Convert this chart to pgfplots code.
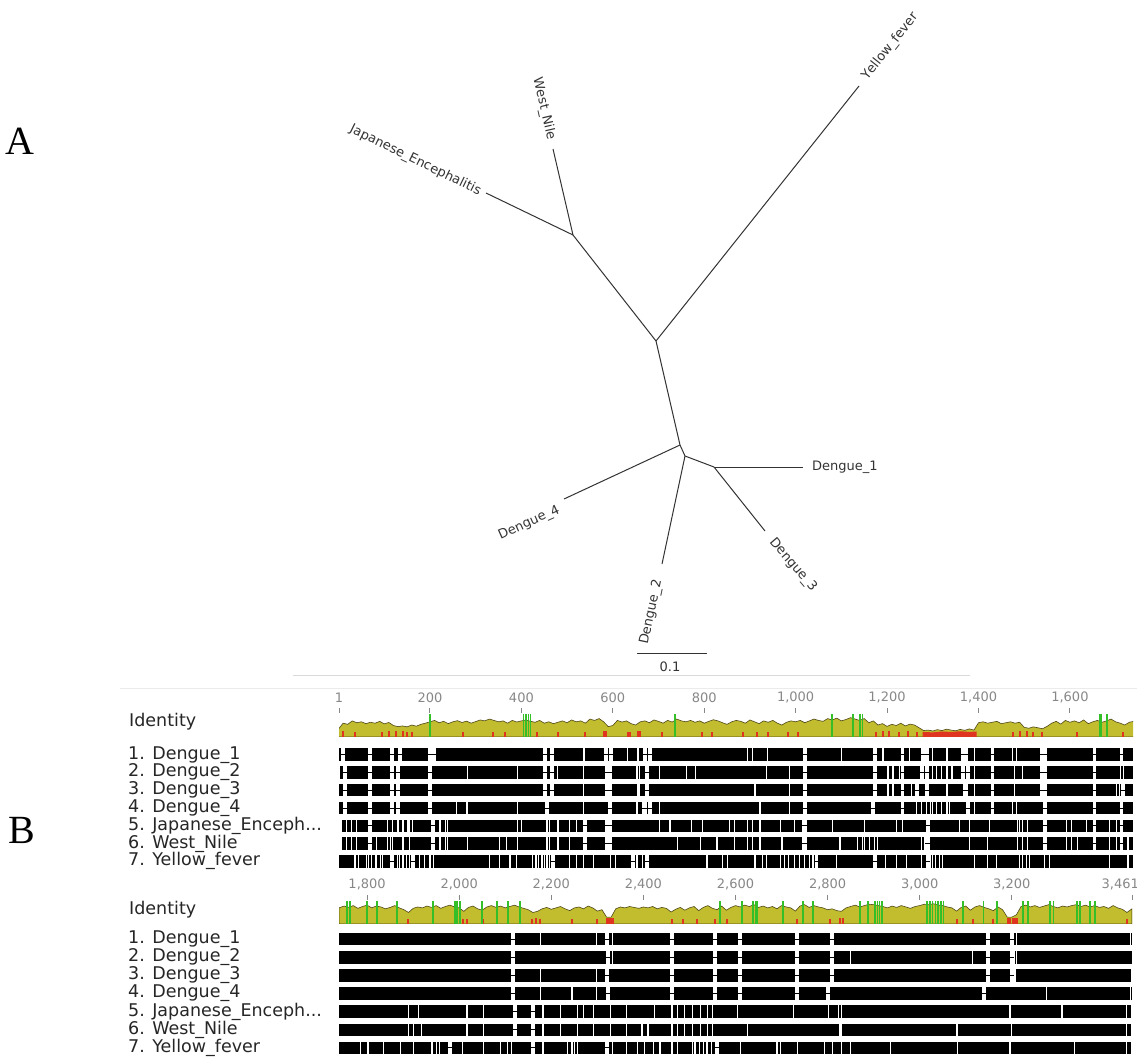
\documentclass[border=0pt]{standalone}
\usepackage{pgfplots}
\pgfplotsset{compat=1.18}
\usepackage{fontspec}
\setmainfont{DejaVu Sans}
\newfontfamily\labfont{Liberation Serif}
\newfontfamily\treefam[Kerning=Off]{DejaVu Sans}
\definecolor{olivebar}{RGB}{194,189,46}
\definecolor{oliveline}{RGB}{80,72,25}
\definecolor{idred}{RGB}{222,52,32}
\definecolor{idgreen}{RGB}{52,190,40}
\definecolor{rulergray}{RGB}{135,135,135}
\newcommand\namefont{\fontsize{17.5}{18}\selectfont}
\newcommand\treefont{\treefam\fontsize{13}{13}\selectfont}
\pgfdeclareplotmark{gapmark}{%
  \pgfpathrectangle{\pgfqpoint{-1.8pt}{-6.9pt}}{\pgfqpoint{3.6pt}{13.8pt}}%
  \pgfsetfillcolor{white}\pgfusepathqfill
  \pgfpathmoveto{\pgfqpoint{-2.4pt}{0pt}}\pgfpathlineto{\pgfqpoint{2.4pt}{0pt}}%
  \pgfsetstrokecolor{black}\pgfsetlinewidth{1pt}\pgfusepathqstroke}
\pgfplotsset{
 idaxis/.style={anchor=south west, scale only axis, height=24pt, ymin=0, ymax=104.3,
   axis x line*=top, axis y line=none, x axis line style={draw=none,-},
   tick align=outside, major tick length=5pt, tick style={rulergray, line width=1pt},
   xticklabel style={font=\fontsize{13}{13}\selectfont, text=rulergray, inner sep=1pt, yshift=4pt},
   clip=true},
 alaxis/.style={anchor=south west, scale only axis, hide axis, clip=false, y dir=reverse, ymin=0.5, ymax=7.5},
 barrow/.style={black, line width=12.4pt, line cap=butt},
 gaps/.style={only marks, mark=gapmark},
 mism/.style={only marks, mark=|, mark size=6.4pt, mark options={draw=white, line width=1.1pt}},
 skyline/.style={fill=olivebar, draw=oliveline, line width=0.6pt},
 redbar/.style={ycomb, draw=idred, line width=2pt},
 greenbar/.style={ycomb, draw=idgreen, line width=1.5pt},
}
\begin{document}
\begin{tikzpicture}
\useasboundingbox (0,0) rectangle (1137pt,1057pt);
% ---------------- canvas axis (pixel units) : tree + labels
\begin{axis}[at={(0pt,0pt)}, anchor=south west, scale only axis, width=1137pt, height=1057pt,
  xmin=0, xmax=1137, ymin=0, ymax=1057, y dir=reverse, hide axis, clip=false]
 \addplot[black!80, line width=1pt] coordinates {(656,341) (859,86)};
 \addplot[black!80, line width=1pt] coordinates {(656,341) (573,235)};
 \addplot[black!80, line width=1pt] coordinates {(573,235) (553,149)};
 \addplot[black!80, line width=1pt] coordinates {(573,235) (486,193)};
 \addplot[black!80, line width=1pt] coordinates {(656,341) (680,445)};
 \addplot[black!80, line width=1pt] coordinates {(680,445) (564,499)};
 \addplot[black!80, line width=1pt] coordinates {(680,445) (685,456)};
 \addplot[black!80, line width=1pt] coordinates {(685,456) (662,564)};
 \addplot[black!80, line width=1pt] coordinates {(685,456) (714,467)};
 \addplot[black!80, line width=1pt] coordinates {(714,467) (803,467)};
 \addplot[black!80, line width=1pt] coordinates {(714,467) (765,531)};
 \addplot[black!80, line width=1pt] coordinates {(637,653) (707,653)};
 \node[rotate=51.5, anchor=west, inner sep=4pt, font=\treefont, text=black!80] at (axis cs:862,82) {Yellow\_fever};
 \node[rotate=-77, anchor=east, inner sep=4pt, font=\treefont, text=black!80] at (axis cs:552,144) {West\_Nile};
 \node[rotate=-26, anchor=east, inner sep=4pt, font=\treefont, text=black!80] at (axis cs:484,194) {Japanese\_Encephalitis};
 \node[anchor=west, inner sep=4pt, font=\treefont, text=black!80] at (axis cs:808,467) {Dengue\_1};
 \node[rotate=-49.6, anchor=west, inner sep=4pt, font=\treefont, text=black!80] at (axis cs:769,537) {Dengue\_3};
 \node[rotate=78, anchor=east, inner sep=4pt, font=\treefont, text=black!80] at (axis cs:659,576) {Dengue\_2};
 \node[rotate=24.2, anchor=east, inner sep=4pt, font=\treefont, text=black!80] at (axis cs:563,508) {Dengue\_4};
 \node[font=\treefont, text=black!80] at (axis cs:670,667) {0.1};
 \draw[black!15, line width=1pt] (axis cs:293,675) -- (axis cs:970,675);
 \draw[black!8, line width=1pt] (axis cs:120,688) -- (axis cs:1137,688);
 \node[font=\labfont\fontsize{40}{40}\selectfont] at (axis cs:20,141) {A};
 \node[font=\labfont\fontsize{40}{40}\selectfont] at (axis cs:22,830) {B};
 \node[anchor=east, inner sep=0pt, font=\fontsize{13}{13}\selectfont, text=rulergray] at (axis cs:1139,884) {3,461};
 % names block 1
 \node[anchor=west, inner sep=0pt, font=\namefont, text=black!85] at (axis cs:129,722) {Identity};
 \node[anchor=west, inner sep=0pt, font=\namefont, text=black!85] at (axis cs:128,754.7) {1. Dengue\_1};
 \node[anchor=west, inner sep=0pt, font=\namefont, text=black!85] at (axis cs:128,772.5) {2. Dengue\_2};
 \node[anchor=west, inner sep=0pt, font=\namefont, text=black!85] at (axis cs:128,790.2) {3. Dengue\_3};
 \node[anchor=west, inner sep=0pt, font=\namefont, text=black!85] at (axis cs:128,808.0) {4. Dengue\_4};
 \node[anchor=west, inner sep=0pt, font=\namefont, text=black!85] at (axis cs:128,825.8) {5. Japanese\_Enceph...};
 \node[anchor=west, inner sep=0pt, font=\namefont, text=black!85] at (axis cs:128,843.5) {6. West\_Nile};
 \node[anchor=west, inner sep=0pt, font=\namefont, text=black!85] at (axis cs:128,861.3) {7. Yellow\_fever};
 % names block 2
 \node[anchor=west, inner sep=0pt, font=\namefont, text=black!85] at (axis cs:129,910) {Identity};
 \node[anchor=west, inner sep=0pt, font=\namefont, text=black!85] at (axis cs:128,939.2) {1. Dengue\_1};
 \node[anchor=west, inner sep=0pt, font=\namefont, text=black!85] at (axis cs:128,957.3) {2. Dengue\_2};
 \node[anchor=west, inner sep=0pt, font=\namefont, text=black!85] at (axis cs:128,975.5) {3. Dengue\_3};
 \node[anchor=west, inner sep=0pt, font=\namefont, text=black!85] at (axis cs:128,993.6) {4. Dengue\_4};
 \node[anchor=west, inner sep=0pt, font=\namefont, text=black!85] at (axis cs:128,1011.7) {5. Japanese\_Enceph...};
 \node[anchor=west, inner sep=0pt, font=\namefont, text=black!85] at (axis cs:128,1029.9) {6. West\_Nile};
 \node[anchor=west, inner sep=0pt, font=\namefont, text=black!85] at (axis cs:128,1048) {7. Yellow\_fever};
\end{axis}
% ---------------- identity block 1
\begin{axis}[idaxis, at={(339pt,320pt)}, width=794pt, xmin=1, xmax=1738,
  xtick={1,200,400,600,800,1000,1200,1400,1600},
  xticklabels={1,200,400,600,800,{1,000},{1,200},{1,400},{1,600}}]
 \addplot[skyline] coordinates {(0,35) (10,60) (20,55) (30,70) (40,62) (50,66) (60,58) (70,64) (80,60) (90,68)
 (100,57) (110,63) (120,50) (130,45) (140,48) (150,44) (160,52) (170,47) (180,55) (190,60)
 (200,66) (210,72) (220,62) (230,68) (240,58) (250,66) (260,71) (270,63) (280,69) (290,60)
 (300,67) (310,74) (320,70) (330,78) (340,72) (350,66) (360,70) (370,60) (380,72) (390,65)
 (400,70) (410,74) (420,68) (430,64) (440,72) (450,60) (460,66) (470,58) (480,64) (490,70)
 (500,62) (510,74) (520,66) (530,70) (540,60) (550,78) (560,72) (570,80) (580,66) (590,45)
 (600,50) (610,72) (620,65) (630,70) (640,58) (650,52) (660,66) (670,70) (680,62) (690,74)
 (700,68) (710,60) (720,72) (730,65) (740,78) (750,70) (760,66) (770,72) (780,64) (790,70)
 (800,60) (810,68) (820,75) (830,70) (840,62) (850,55) (860,66) (870,72) (880,68) (890,60)
 (900,74) (910,66) (920,58) (930,70) (940,64) (950,72) (960,60) (970,52) (980,64) (990,70)
 (1000,66) (1010,72) (1020,62) (1030,70) (1040,78) (1050,72) (1060,68) (1070,80) (1080,74) (1090,82)
 (1100,70) (1110,76) (1120,84) (1130,78) (1140,72) (1150,80) (1160,62) (1170,70) (1180,52) (1190,58)
 (1200,46) (1210,55) (1220,50) (1230,60) (1240,48) (1250,56) (1260,52) (1270,40) (1280,28) (1290,30)
 (1300,26) (1310,32) (1320,28) (1330,34) (1340,30) (1350,27) (1360,33) (1370,29) (1380,35) (1390,30)
 (1400,62) (1410,66) (1420,60) (1430,64) (1440,68) (1450,58) (1460,62) (1470,66) (1480,60) (1490,64)
 (1500,42) (1510,38) (1520,44) (1530,40) (1540,36) (1550,46) (1560,60) (1570,68) (1580,56) (1590,72)
 (1600,64) (1610,70) (1620,62) (1630,74) (1640,58) (1650,66) (1660,72) (1670,64) (1680,70) (1690,78)
 (1700,66) (1710,60) (1720,52) (1730,64) (1740,68)} \closedcycle;
 \addplot[fill=idred, draw=none] coordinates {(1278,0) (1278,22) (1300,20) (1320,24) (1340,22) (1360,25) (1380,22) (1396,24) (1396,0)} \closedcycle;
 \addplot[redbar] coordinates {(10,25) (36,20) (95,22) (110,25) (125,28) (140,25) (150,22) (160,20) (272,20) (338,22) (364,20) (434,22) (480,20) (539,22) (580,28) (585,28) (633,20) (637,22) (655,25) (659,25) (707,20) (795,20) (817,22) (885,20) (915,22) (939,20) (983,20) (1005,22) (1175,22) (1190,25) (1205,25) (1225,22) (1245,25) (1265,22) (1475,22) (1490,25) (1505,25) (1519,22) (1538,22) (1615,20) (1716,22)};
 \addplot[greenbar] coordinates {(200,100) (405,100) (410,100) (415,100) (420,100) (736,100) (1079,100) (1125,100) (1141,100) (1146,100) (1665,100) (1668,100) (1681,100)};
\end{axis}
% ---------------- alignment block 1
\begin{axis}[alaxis, at={(339pt,186.8pt)}, width=794pt, height=124.4pt, xmin=1, xmax=1738]
 \addplot[barrow] coordinates {(1,1) (1738,1)};
 \addplot[barrow] coordinates {(1,2) (1738,2)};
 \addplot[barrow] coordinates {(1,3) (1738,3)};
 \addplot[barrow] coordinates {(1,4) (1738,4)};
 \addplot[barrow] coordinates {(8,5) (1738,5)};
 \addplot[barrow] coordinates {(8,6) (1738,6)};
 \addplot[barrow] coordinates {(1,7) (1738,7)};
 \addplot[mism] coordinates {(537,1) (633,1) (655,1) (895,1) (906,1) (939,1) (1101,1) (1191,1) (1250,1) (1300,1) (1331,1) (1392,1) (1475,1) (1484,1)
 (3,2) (283,2) (392,2) (478,2) (535,2) (653,2) (659,2) (703,2) (762,2) (780,2) (937,2) (987,2) (1202,2) (1213,2) (1228,2) (1300,2) (1309,2) (1320,2) (1331,2) (1342,2) (1392,2) (1479,2) (1497,2) (1710,2) (1718,2)
 (535,3) (655,3) (659,3) (911,3) (987,3) (1202,3) (1213,3) (1254,3) (1331,3) (1392,3) (1479,3) (1702,3) (1709,3)
 (259,4) (281,4) (392,4) (535,4) (653,4) (664,4) (703,4) (922,4) (987,4) (1265,4) (1276,4) (1287,4) (1294,4) (1300,4) (1309,4) (1320,4) (1331,4) (1337,4) (1392,4) (1475,4) (1484,4)
 (18,5) (29,5) (40,5) (108,5) (119,5) (130,5) (141,5) (152,5) (156,5) (161,5) (222,5) (233,5) (239,5) (392,5) (401,5) (456,5) (462,5) (480,5) (506,5) (521,5) (703,5) (725,5) (773,5) (797,5) (856,5) (867,5) (895,5) (906,5) (922,5) (966,5) (998,5) (1014,5) (1081,5) (1151,5) (1221,5) (1234,5) (1359,5) (1381,5) (1425,5) (1486,5) (1490,5) (1497,5) (1508,5) (1593,5) (1604,5) (1637,5) (1687,5) (1702,5)
 (18,6) (29,6) (40,6) (84,6) (108,6) (113,6) (119,6) (141,6) (156,6) (222,6) (233,6) (239,6) (283,6) (353,6) (368,6) (392,6) (456,6) (462,6) (480,6) (506,6) (742,6) (791,6) (828,6) (867,6) (895,6) (906,6) (922,6) (970,6) (1014,6) (1097,6) (1136,6) (1147,6) (1151,6) (1162,6) (1173,6) (1180,6) (1276,6) (1283,6) (1381,6) (1420,6) (1486,6) (1497,6) (1508,6) (1593,6) (1604,6) (1617,6) (1687,6) (1702,6) (1727,6)
 (36,7) (43,7) (62,7) (66,7) (73,7) (80,7) (84,7) (91,7) (97,7) (128,7) (134,7) (141,7) (148,7) (156,7) (178,7) (189,7) (200,7) (207,7) (331,7) (353,7) (375,7) (390,7) (425,7) (432,7) (438,7) (445,7) (451,7) (456,7) (462,7) (506,7) (521,7) (535,7) (557,7) (594,7) (605,7) (653,7) (664,7) (806,7) (839,7) (850,7) (911,7) (928,7) (937,7) (966,7) (975,7) (985,7) (998,7) (1009,7) (1020,7) (1031,7) (1038,7) (1090,7) (1197,7) (1221,7) (1243,7) (1276,7) (1294,7) (1300,7) (1306,7) (1315,7) (1322,7) (1392,7) (1420,7) (1440,7) (1490,7) (1497,7) (1504,7) (1512,7) (1545,7) (1556,7) (1687,7) (1727,7)};
 \addplot[gaps] coordinates {(10,1) (69,1) (117,1) (134,1) (200,1) (209,1) (451,1) (467,1) (585,1) (596,1) (670,1) (681,1) (1020,1) (1173,1) (1234,1) (1278,1) (1287,1) (1366,1) (1374,1) (1431,1) (1538,1) (1545,1) (1654,1) (1713,1)
 (14,2) (69,2) (117,2) (130,2) (200,2) (451,2) (467,2) (587,2) (594,2) (675,2) (1020,2) (1173,2) (1234,2) (1276,2) (1287,2) (1366,2) (1377,2) (1431,2) (1538,2) (1545,2) (1654,2)
 (14,3) (69,3) (117,3) (130,3) (200,3) (451,3) (467,3) (587,3) (594,3) (675,3) (1020,3) (1173,3) (1234,3) (1265,3) (1287,3) (1370,3) (1374,3) (1431,3) (1538,3) (1545,3) (1654,3) (1716,3)
 (14,4) (69,4) (117,4) (130,4) (200,4) (456,4) (594,4) (670,4) (681,4) (1020,4) (1169,4) (1234,4) (1377,4) (1431,4) (1545,4) (1654,4) (1713,4)
 (69,5) (207,5) (539,5) (587,5) (594,5) (1020,5) (1289,5) (1545,5) (1654,5) (1713,5)
 (69,6) (207,6) (539,6) (587,6) (594,6) (1020,6) (1289,6) (1545,6) (1654,6) (1713,6)
 (117,7) (163,7) (469,7) (644,7) (675,7) (1046,7) (1173,7) (1289,7)};
\end{axis}
% ---------------- identity block 2
\begin{axis}[idaxis, at={(339pt,133pt)}, width=793pt, xmin=1739, xmax=3461,
  xtick={1800,2000,2200,2400,2600,2800,3000,3200},
  xticklabels={{1,800},{2,000},{2,200},{2,400},{2,600},{2,800},{3,000},{3,200}},
  extra x ticks={3461}, extra x tick labels={{}}]
 \addplot[skyline] coordinates {(1739,70) (1750,78) (1760,72) (1770,80) (1780,68) (1790,76) (1800,82) (1810,70) (1820,78) (1830,74)
 (1840,66) (1850,72) (1860,80) (1870,70) (1880,62) (1890,50) (1900,68) (1910,74) (1920,70) (1930,78)
 (1940,72) (1950,80) (1960,68) (1970,76) (1980,82) (1990,74) (2000,70) (2010,55) (2020,72) (2030,78)
 (2040,66) (2050,60) (2060,74) (2070,80) (2080,72) (2090,78) (2100,70) (2110,76) (2120,82) (2130,74)
 (2140,68) (2150,62) (2160,50) (2170,55) (2180,66) (2190,72) (2200,64) (2210,70) (2220,76) (2230,66)
 (2240,58) (2250,70) (2260,74) (2270,66) (2280,78) (2290,70) (2300,56) (2310,62) (2320,30) (2330,30)
 (2340,66) (2350,74) (2360,70) (2370,76) (2380,72) (2390,68) (2400,74) (2410,70) (2420,76) (2430,66)
 (2440,72) (2450,68) (2460,52) (2470,64) (2480,72) (2490,60) (2500,70) (2510,76) (2520,58) (2530,72)
 (2540,80) (2550,68) (2560,62) (2570,78) (2580,60) (2590,72) (2600,80) (2610,74) (2620,82) (2630,76)
 (2640,84) (2650,72) (2660,78) (2670,70) (2680,76) (2690,66) (2700,80) (2710,74) (2720,70) (2730,56)
 (2740,78) (2750,84) (2760,72) (2770,80) (2780,74) (2790,70) (2800,62) (2810,66) (2820,58) (2830,55)
 (2840,70) (2850,76) (2860,82) (2870,74) (2880,80) (2890,86) (2900,84) (2910,80) (2920,76) (2930,70)
 (2940,78) (2950,72) (2960,80) (2970,74) (2980,68) (2990,76) (3000,80) (3010,86) (3020,84) (3030,88)
 (3040,82) (3050,80) (3060,74) (3070,70) (3080,56) (3090,72) (3100,78) (3110,60) (3120,74) (3130,80)
 (3140,72) (3150,66) (3160,58) (3170,74) (3180,62) (3190,30) (3200,30) (3210,40) (3220,76) (3230,82)
 (3240,74) (3250,80) (3260,72) (3270,78) (3280,84) (3290,76) (3300,70) (3310,78) (3320,74) (3330,80)
 (3340,84) (3350,76) (3360,82) (3370,74) (3380,80) (3390,72) (3400,76) (3410,68) (3420,80) (3430,70)
 (3440,64) (3450,50) (3461,66)} \closedcycle;
 \addplot[redbar] coordinates {(1889,22) (2008,20) (2017,22) (2052,20) (2158,22) (2167,25) (2176,22) (2245,20) (2299,22) (2321,25) (2325,28) (2329,28) (2334,25) (2462,20) (2486,22) (2516,20) (2556,22) (2582,20) (2734,22) (2805,20) (2827,25) (2833,25) (3081,22) (3116,20) (3159,22) (3192,25) (3197,28) (3202,28) (3207,28) (3211,25) (3450,22)};
 \addplot[greenbar] coordinates {(1756,100) (1763,100) (1800,100) (1822,100) (1865,100) (1943,100) (1991,100) (1995,100) (2002,100) (2050,100) (2082,100) (2106,100) (2132,100) (2566,100) (2614,100) (2638,100) (2643,100) (2647,100) (2703,100) (2747,100) (2768,100) (2870,100) (2888,100) (2903,100) (2908,100) (2913,100) (2918,100) (3016,100) (3022,100) (3028,100) (3034,100) (3040,100) (3046,100) (3052,100) (3094,100) (3138,100) (3168,100) (3224,100) (3235,100) (3283,100) (3290,100) (3342,100) (3348,100) (3370,100) (3381,100)};
\end{axis}
% ---------------- alignment block 2
\begin{axis}[alaxis, at={(339pt,0pt)}, width=793pt, height=126.9pt, xmin=1739, xmax=3461]
 \addplot[barrow] coordinates {(1739,1) (3461,1)};
 \addplot[barrow] coordinates {(1739,2) (3461,2)};
 \addplot[barrow] coordinates {(1739,3) (3461,3)};
 \addplot[barrow] coordinates {(1739,4) (3461,4)};
 \addplot[barrow] coordinates {(1739,5) (3461,5)};
 \addplot[barrow] coordinates {(1739,6) (3461,6)};
 \addplot[barrow] coordinates {(1739,7) (3461,7)};
 \addplot[mism] coordinates {(2176,1) (2299,1) (2332,1) (3211,1) (3457,1)
 (2332,2) (2849,2) (3114,2) (3205,2) (3211,2)
 (2176,3) (2299,3) (3203,3) (3207,3) (3459,3)
 (2176,4) (2245,4) (2299,4) (3276,4) (3457,4)
 (1889,5) (1911,5) (2017,5) (2052,5) (2182,5) (2219,5) (2256,5) (2269,5) (2291,5) (2328,5) (2364,5) (2425,5) (2462,5) (2475,5) (2490,5) (2506,5) (2523,5) (2540,5) (2551,5) (2605,5) (2725,5) (2801,5) (2823,5) (2831,5) (3196,5) (3309,5) (3450,5) (3459,5)
 (1889,6) (1900,6) (1919,6) (2017,6) (2052,6) (2182,6) (2219,6) (2256,6) (2291,6) (2328,6) (2364,6) (2397,6) (2410,6) (2462,6) (2475,6) (2490,6) (2506,6) (2523,6) (2540,6) (2551,6) (2627,6) (2827,6) (2831,6) (3081,6) (3200,6) (3450,6) (3459,6)
 (1785,7) (1802,7) (1835,7) (1872,7) (1900,7) (1941,7) (1950,7) (1958,7) (2008,7) (2052,7) (2089,7) (2104,7) (2113,7) (2182,7) (2236,7) (2245,7) (2251,7) (2256,7) (2332,7) (2364,7) (2388,7) (2403,7) (2421,7) (2436,7) (2462,7) (2475,7) (2506,7) (2512,7) (2521,7) (2530,7) (2538,7) (2547,7) (2610,7) (2690,7) (2697,7) (2734,7) (2794,7) (2810,7) (2831,7) (2849,7) (2936,7) (3083,7) (3196,7) (3337,7) (3450,7) (3459,7)};
 \addplot[gaps] coordinates {(2117,1) (2321,1) (2462,1) (2556,1) (2610,1) (2734,1) (2810,1) (3148,1) (3200,1)
 (2117,2) (2323,2) (2462,2) (2556,2) (2610,2) (2734,2) (2810,2) (3148,2) (3200,2)
 (2117,3) (2321,3) (2462,3) (2556,3) (2610,3) (2734,3) (2810,3) (3148,3) (3200,3)
 (2117,4) (2323,4) (2462,4) (2556,4) (2610,4) (2734,4) (2801,4) (3140,4)
 (2121,5) (2160,5) (2121,6) (2160,6)
 (1980,7) (2160,7) (2321,7) (2560,7)};
\end{axis}
\end{tikzpicture}
\end{document}
